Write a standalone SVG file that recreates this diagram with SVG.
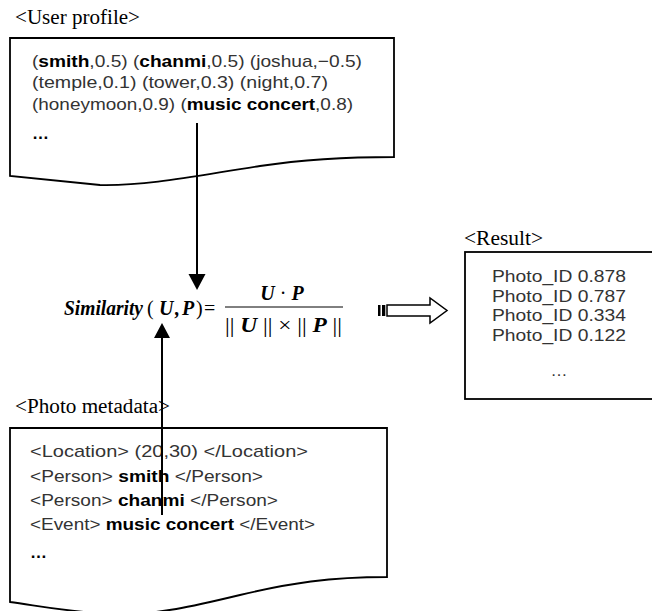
<svg xmlns="http://www.w3.org/2000/svg" width="652" height="611" viewBox="0 0 652 611">
<style>
.box{fill:#fff;stroke:#000;stroke-width:1.8}
.lbl{font-family:"Liberation Serif","Times New Roman",serif;font-size:20px;fill:#000}
.t{font-family:"Liberation Sans",Arial,sans-serif;font-size:17px;fill:#333}
.b{font-weight:bold;fill:#000}
.r{font-family:"Liberation Sans",Arial,sans-serif;font-size:17px;fill:#333}
.m{font-family:"Liberation Serif","Times New Roman",serif;font-size:20px;fill:#000}
.mi{font-style:italic;font-weight:bold}
.conn{stroke:#000;stroke-width:2;fill:none}
</style>
<rect width="652" height="611" fill="#fff"/>

<g id="user-profile">
<text class="lbl" x="15" y="24" textLength="125" lengthAdjust="spacingAndGlyphs">&lt;User profile&gt;</text>
<path class="box" d="M10,38 H394 V157 C340,157 300,160 260,166 C200,175 150,186 100,185 L10,176 Z"/>
<text class="t" x="32" y="67" textLength="330" lengthAdjust="spacingAndGlyphs">(<tspan class="b">smith</tspan>,0.5) (<tspan class="b">chanmi</tspan>,0.5) (joshua,−0.5)</text>
<text class="t" x="32" y="88" textLength="296" lengthAdjust="spacingAndGlyphs">(temple,0.1) (tower,0.3) (night,0.7)</text>
<text class="t" x="32" y="110" textLength="321" lengthAdjust="spacingAndGlyphs">(honeymoon,0.9) (<tspan class="b">music concert</tspan>,0.8)</text>
<text class="t b" x="32" y="139">…</text>
</g>

<g id="formula">
<text class="m mi" x="64" y="315" textLength="79" lengthAdjust="spacingAndGlyphs">Similarity</text>
<text class="m" x="147" y="315">(</text>
<text class="m mi" x="159" y="315">U</text>
<text class="m mi" x="175" y="315">,</text>
<text class="m mi" x="182" y="315">P</text>
<text class="m" x="196" y="315">)</text>
<text class="m" x="204" y="315">=</text>
<text class="m" x="282" y="300" text-anchor="middle"><tspan class="mi">U</tspan> · <tspan class="mi">P</tspan></text>
<line x1="225" y1="307" x2="343" y2="307" stroke="#000" stroke-width="1"/>
<text class="m" x="225" y="332" textLength="117" lengthAdjust="spacingAndGlyphs">|| <tspan class="mi">U</tspan> || × || <tspan class="mi">P</tspan> ||</text>
</g>

<g id="result-arrow">
<rect x="378" y="305" width="2.5" height="11" fill="#000"/>
<rect x="382" y="305" width="3.3" height="11" fill="#000"/>
<polygon points="387,305 430,305 430,298 447,310.5 430,323 430,316 387,316" fill="#fff" stroke="#000" stroke-width="1.5"/>
</g>

<g id="result">
<text class="lbl" x="464" y="245" textLength="79" lengthAdjust="spacingAndGlyphs">&lt;Result&gt;</text>
<rect class="box" x="465" y="252" width="190" height="147"/>
<text class="r" x="559" y="282" text-anchor="middle" textLength="134" lengthAdjust="spacingAndGlyphs">Photo_ID 0.878</text>
<text class="r" x="559" y="301.5" text-anchor="middle" textLength="134" lengthAdjust="spacingAndGlyphs">Photo_ID 0.787</text>
<text class="r" x="559" y="321" text-anchor="middle" textLength="134" lengthAdjust="spacingAndGlyphs">Photo_ID 0.334</text>
<text class="r" x="559" y="340.5" text-anchor="middle" textLength="134" lengthAdjust="spacingAndGlyphs">Photo_ID 0.122</text>
<text class="r" x="559" y="376" text-anchor="middle">…</text>
</g>

<g id="photo-metadata">
<text class="lbl" x="15" y="413" textLength="155" lengthAdjust="spacingAndGlyphs">&lt;Photo metadata&gt;</text>
<path class="box" d="M10,428 H387 V577 C330,577 290,583 240,595 C190,607 160,614 120,614 C80,614 40,606 10,602 Z"/>
<text class="t" x="30" y="457" textLength="278" lengthAdjust="spacingAndGlyphs">&lt;Location&gt; (20,30) &lt;/Location&gt;</text>
<text class="t" x="30" y="482" textLength="233" lengthAdjust="spacingAndGlyphs">&lt;Person&gt; <tspan class="b">smith</tspan> &lt;/Person&gt;</text>
<text class="t" x="30" y="506" textLength="248" lengthAdjust="spacingAndGlyphs">&lt;Person&gt; <tspan class="b">chanmi</tspan> &lt;/Person&gt;</text>
<text class="t" x="30" y="530" textLength="285" lengthAdjust="spacingAndGlyphs">&lt;Event&gt; <tspan class="b">music concert</tspan> &lt;/Event&gt;</text>
<text class="t b" x="30" y="558">…</text>
</g>

<g id="connectors">
<line class="conn" x1="197" y1="123" x2="197" y2="276"/>
<polygon points="188.5,274 205.5,274 197,290" fill="#000"/>
<line class="conn" x1="162" y1="515" x2="162" y2="336"/>
<polygon points="154,338 170,338 162,323" fill="#000"/>
</g>
</svg>
